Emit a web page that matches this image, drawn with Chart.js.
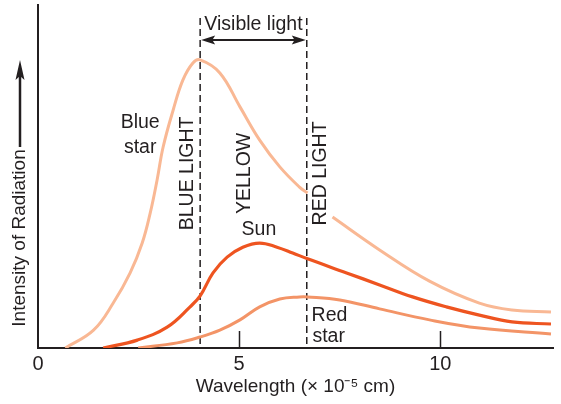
<!DOCTYPE html>
<html>
<head>
<meta charset="utf-8">
<script src="https://cdn.jsdelivr.net/npm/chart.js@4.4.1/dist/chart.umd.min.js"></script>
<style>
  html, body { margin: 0; padding: 0; background: #fff; }
</style>
</head>
<body>
<canvas id="spectrum" width="561" height="404"></canvas>
<script>
// wavelength in 1e-5 cm, intensity in arbitrary units (0 - 100)
var blueStarX = [0.68, 1.38, 1.87, 2.29, 2.59, 2.79, 2.96, 3.11, 3.36, 3.60, 3.85, 4.03, 4.52, 5.02, 5.51, 6.01, 6.50, 6.70, 7.00, 7.32, 8.49, 9.73, 10.97, 11.78, 12.75];
var blueStarY = [0, 5.2, 13.1, 21.9, 30.6, 39.4, 49.0, 58.6, 69.4, 78.1, 83.1, 84.0, 80.2, 70.3, 60.6, 52.8, 46.9, 45.2, null, 38.2, 28.6, 19.5, 13.1, 11.1, 10.5];

var sunX = [1.62, 2.47, 3.21, 3.78, 4.03, 4.35, 4.70, 5.09, 5.51, 5.94, 6.33, 6.70, 7.67, 8.49, 9.31, 10.15, 10.97, 11.78, 12.75];
var sunY = [0, 2.3, 6.1, 12.0, 15.2, 21.9, 26.5, 29.4, 30.6, 29.4, 27.7, 26.0, 21.9, 18.4, 14.9, 12.0, 9.6, 7.6, 7.0];

var redStarX = [2.49, 3.46, 4.03, 4.52, 5.02, 5.51, 6.01, 6.50, 6.70, 7.50, 8.49, 9.73, 10.97, 12.75];
var redStarY = [0, 1.5, 3.2, 5.2, 8.2, 12.0, 14.3, 14.9, 14.9, 14.0, 11.4, 8.2, 5.8, 4.1];

var xTicks = [0, 5, 10];
var visibleEdges = [4.03, 6.68];   // blue light edge, red light edge

var FONT = "'Liberation Sans', Arial, Helvetica, sans-serif";
var INK = '#231f20';

function toPoints(xs, ys) {
    return xs.map(function (x, i) { return { x: x, y: ys[i] }; });
}

function arrowHead(ctx, x, y, dx, dy, len, half) {
    // tip at (x,y), pointing along (dx,dy)
    var px = -dy, py = dx;
    ctx.beginPath();
    ctx.moveTo(x, y);
    ctx.lineTo(x - dx * len + px * half, y - dy * len + py * half);
    ctx.lineTo(x - dx * len * 0.8, y - dy * len * 0.8);
    ctx.lineTo(x - dx * len - px * half, y - dy * len - py * half);
    ctx.closePath();
    ctx.fill();
}

var annotations = {
    id: 'annotations',
    beforeDatasetsDraw: function (chart) {
        var ctx = chart.ctx, xs = chart.scales.x;
        ctx.save();
        ctx.strokeStyle = INK;
        ctx.lineWidth = 1.5;
        ctx.setLineDash([7, 4]);
        visibleEdges.forEach(function (v) {
            var px = xs.getPixelForValue(v);
            ctx.beginPath();
            ctx.moveTo(px, chart.chartArea.top + 13);
            ctx.lineTo(px, chart.chartArea.bottom);
            ctx.stroke();
        });
        ctx.restore();
    },
    afterDraw: function (chart) {
        var ctx = chart.ctx, xs = chart.scales.x, ys = chart.scales.y;
        var area = chart.chartArea;
        ctx.save();
        ctx.fillStyle = INK;
        ctx.strokeStyle = INK;

        // inward tick marks
        ctx.lineWidth = 1.5;
        xs.ticks.forEach(function (t) {
            if (t.value <= 0) return;
            var px = Math.round(xs.getPixelForValue(t.value)) + 0.5;
            ctx.beginPath();
            ctx.moveTo(px, area.bottom);
            ctx.lineTo(px, area.bottom - 17);
            ctx.stroke();
        });

        // visible light span arrow
        var ax1 = xs.getPixelForValue(visibleEdges[0]);
        var ax2 = xs.getPixelForValue(visibleEdges[1]);
        var ay = ys.getPixelForValue(89.8);
        ctx.lineWidth = 2;
        ctx.beginPath();
        ctx.moveTo(ax1 + 8, ay);
        ctx.lineTo(ax2 - 8, ay);
        ctx.stroke();
        arrowHead(ctx, ax1 + 1, ay, -1, 0, 14, 4.5);
        arrowHead(ctx, ax2 - 1, ay, 1, 0, 14, 4.5);

        ctx.font = '19.5px ' + FONT;
        ctx.textAlign = 'center';
        ctx.textBaseline = 'middle';
        ctx.fillText('Visible light', (ax1 + ax2) / 2, ys.getPixelForValue(94.2));

        // curve labels
        ctx.fillText('Blue', xs.getPixelForValue(2.54), ys.getPixelForValue(65.6));
        ctx.fillText('star', xs.getPixelForValue(2.54), ys.getPixelForValue(58.3));
        ctx.fillText('Sun', xs.getPixelForValue(5.49), ys.getPixelForValue(34.4));
        ctx.textAlign = 'left';
        ctx.fillText('Red', xs.getPixelForValue(6.80), ys.getPixelForValue(9.3));
        ctx.fillText('star', xs.getPixelForValue(6.82), ys.getPixelForValue(3.2));

        // vertical band labels
        [['BLUE LIGHT', 3.73], ['YELLOW', 5.14], ['RED LIGHT', 7.03]].forEach(function (b) {
            ctx.save();
            ctx.translate(xs.getPixelForValue(b[1]), ys.getPixelForValue(50.9));
            ctx.rotate(-Math.PI / 2);
            ctx.textAlign = 'center';
            ctx.fillText(b[0], 0, 0);
            ctx.restore();
        });

        // y axis title with arrow
        var tx = area.left - 18;
        ctx.save();
        ctx.translate(tx, 238);
        ctx.rotate(-Math.PI / 2);
        ctx.font = '19px ' + FONT;
        ctx.textAlign = 'center';
        ctx.fillText('Intensity of Radiation', 0, 0);
        ctx.restore();
        ctx.lineWidth = 2.5;
        ctx.beginPath();
        ctx.moveTo(tx, 147);
        ctx.lineTo(tx, 75);
        ctx.stroke();
        arrowHead(ctx, tx, 60, 0, -1, 20, 4.5);

        ctx.restore();
    }
};

var ctx = document.getElementById('spectrum').getContext('2d');

var spectrumChart = new Chart(ctx, {
    type: 'line',
    data: {
        datasets: [{
            label: 'Blue star',
            data: toPoints(blueStarX, blueStarY),
            borderColor: '#F9B894',
            borderWidth: 3,
            pointRadius: 0,
            tension: 0.4,
            spanGaps: false
        }, {
            label: 'Sun',
            data: toPoints(sunX, sunY),
            borderColor: '#EE5420',
            borderWidth: 3.2,
            pointRadius: 0,
            tension: 0.4
        }, {
            label: 'Red star',
            data: toPoints(redStarX, redStarY),
            borderColor: '#F39467',
            borderWidth: 3,
            pointRadius: 0,
            tension: 0.4
        }]
    },
    options: {
        responsive: false,
        animation: false,
        layout: { padding: { top: 5, right: 8, left: 0, bottom: 0 } },
        plugins: {
            legend: { display: false },
            tooltip: { enabled: false }
        },
        scales: {
            x: {
                type: 'linear',
                min: 0,
                max: 12.8,
                afterBuildTicks: function (s) {
                    s.ticks = xTicks.map(function (v) { return { value: v }; });
                },
                afterFit: function (s) { s.height = 56; },
                grid: { display: false },
                border: { display: true, color: INK, width: 2 },
                ticks: {
                    padding: -4,
                    color: INK,
                    maxRotation: 0,
                    font: { family: FONT, size: 20 }
                },
                title: {
                    display: true,
                    text: 'Wavelength (\u00d7 10\u207b\u2075 cm)',
                    color: INK,
                    font: { family: FONT, size: 19 },
                    padding: { top: 0, bottom: 6 }
                }
            },
            y: {
                min: 0,
                max: 100,
                afterFit: function (s) { s.width = 38; },
                grid: { display: false },
                border: { display: true, color: INK, width: 2 },
                ticks: { display: false }
            }
        }
    },
    plugins: [annotations]
});
</script>
</body>
</html>
